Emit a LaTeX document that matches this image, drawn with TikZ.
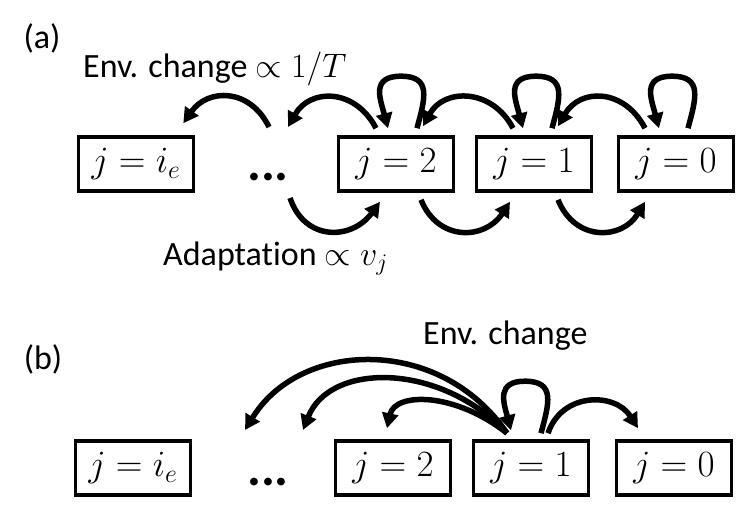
\RequirePackage{fix-cm}
\documentclass[tikz,border=0pt]{standalone}
\usepackage{fontspec}
\setmainfont{Carlito}[Ligatures=NoCommon]
\usetikzlibrary{arrows.meta,calc}
\begin{document}
\begin{tikzpicture}[x=1pt,y=-1pt,
  state/.style={draw,line width=3.6pt,minimum width=115pt,minimum height=54pt,inner sep=0pt,font=\fontsize{37}{42}\selectfont},
  lbl/.style={font=\fontsize{34}{38}\selectfont,inner sep=0pt},
  dotsnode/.style={font=\fontsize{52}{56}\selectfont\bfseries,inner sep=0pt},
  arr/.style={line width=5.5pt,-{Triangle[length=15pt,width=16pt]}}]
\useasboundingbox (0,0) rectangle (738,508);
% ---------- (a) ----------
\node[lbl] (la) at (42,38) {(a)};
\node[lbl,anchor=base west] (envA) at (83,78) {Env. change $\propto 1/T$};
\node[lbl,anchor=base west] (adA) at (163,265) {Adaptation $\propto v_j$};
\node[state] (aie) at (136,164) {$j=i_e$};
\node[dotsnode] (adots) at (268,177) {...};
\node[state] (a2) at (396,164) {$j=2$};
\node[state] (a1) at (534,164) {$j=1$};
\node[state] (a0) at (676,164) {$j=0$};
% free ends near the dots
\coordinate (adU1) at (269,127);
\coordinate (adU2) at (288,127);
\coordinate (adD) at (290,198);
% env change arrows
\draw[arr] (adU1) .. controls (250,88) and (208,88) .. ($(aie.north east)+(-12,-12)$);
\draw[arr] ($(a2.north)+(-20,-7)$) .. controls (355,88) and (310,88) .. (adU2);
\draw[arr] ($(a1.north)+(-21,-7)$) .. controls (492,88) and (444,88) .. ($(a2.north)+(27,-9)$);
\draw[arr] ($(a0.north)+(-31,-7)$) .. controls (624,88) and (580,88) .. ($(a1.north)+(24,-9)$);
% self loops
\draw[arr] ($(a2.north)+(21,-7)$) to[out=75,in=0,looseness=1.45] ($(a2.north)+(5,-59)$) to[out=180,in=105,looseness=1.45] ($(a2.north)+(-8,-7)$);
\draw[arr] ($(a1.north)+(18,-7)$) to[out=75,in=0,looseness=1.45] ($(a1.north)+(2,-59)$) to[out=180,in=105,looseness=1.45] ($(a1.north)+(-11,-7)$);
\draw[arr] ($(a0.north)+(12,-7)$) to[out=75,in=0,looseness=1.45] ($(a0.north)+(-4,-59)$) to[out=180,in=105,looseness=1.45] ($(a0.north)+(-17,-7)$);
% adaptation arrows
\draw[arr] (adD) .. controls (305,242) and (352,240) .. ($(a2.south)+(-16,9)$);
\draw[arr] ($(a2.south)+(25,7)$) .. controls (438,242) and (485,240) .. ($(a1.south)+(-24,9)$);
\draw[arr] ($(a1.south)+(24,7)$) .. controls (575,242) and (622,240) .. ($(a0.south)+(-31,9)$);
% ---------- (b) ----------
\node[lbl] (lb) at (43,359) {(b)};
\node[lbl,anchor=base west] (envB) at (423,344) {Env. change};
\node[state] (bie) at (133,468) {$j=i_e$};
\node[dotsnode] (bdots) at (268,482) {...};
\node[state] (b2) at (393,468) {$j=2$};
\node[state] (b1) at (531,468) {$j=1$};
\node[state] (b0) at (674,468) {$j=0$};
\coordinate (bF1) at (245,430);
\coordinate (bF2) at (303,430);
\draw[arr] ($(b1.north)+(-24,-6)$) .. controls (440,335) and (300,340) .. (bF1);
\draw[arr] ($(b1.north)+(-24,-6)$) .. controls (440,362) and (330,362) .. (bF2);
\draw[arr] ($(b1.north)+(-24,-6)$) .. controls (455,392) and (395,392) .. ($(b2.north)+(-6,-11)$);
\draw[arr] ($(b1.north)+(10,-6)$) to[out=75,in=0,looseness=1.45] ($(b1.north)+(-6,-58)$) to[out=180,in=105,looseness=1.45] ($(b1.north)+(-20,-9)$);
\draw[arr] ($(b1.north)+(17,-6)$) .. controls (562,392) and (615,392) .. ($(b0.north)+(-36,-11)$);
\end{tikzpicture}
\end{document}
